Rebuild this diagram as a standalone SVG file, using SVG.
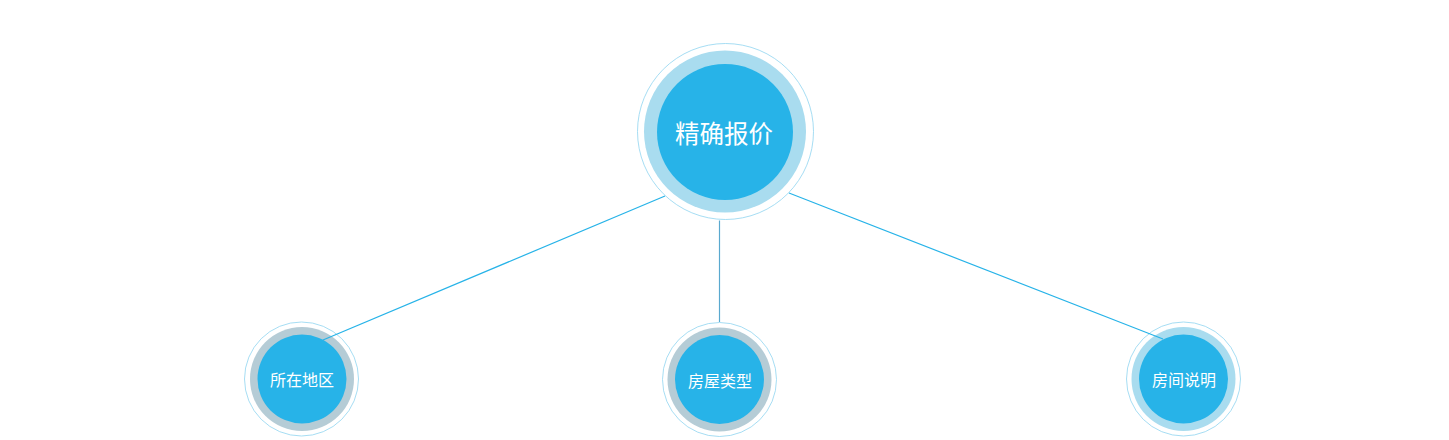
<svg xmlns="http://www.w3.org/2000/svg" width="1449" height="440" viewBox="0 0 1449 440">
<style>
.halo{fill:#ffffff;stroke:#8fd4f0;stroke-width:0.8}
.ring-blue{fill:#a9dcef}
.ring-gray{fill:#b5ccd6}
.core{fill:#27b3e8}
.lbl{fill:#ffffff;font-family:"Noto Sans CJK SC","Noto Sans",sans-serif;text-anchor:middle;dominant-baseline:central}
.edge{stroke:#27b3e8;stroke-width:1.2;fill:none}
.edge-mid{stroke:#5aa9cf;stroke-width:1.2;fill:none}
</style>
<rect width="1449" height="440" fill="#ffffff"/>
<g id="node-root">
<circle class="halo" cx="725.5" cy="131.5" r="88"/>
<circle class="ring-blue" cx="725" cy="131.5" r="81"/>
<circle class="core" cx="725" cy="132" r="68"/>
<text class="lbl" x="724" y="132" font-size="24.5">精确报价</text>
</g>
<g id="node-region">
<circle class="halo" cx="301.5" cy="379" r="57"/>
<circle class="ring-gray" cx="302" cy="379" r="52"/>
<circle class="core" cx="302" cy="379" r="44.5"/>
<text class="lbl" x="302" y="379" font-size="16">所在地区</text>
</g>
<g id="node-type">
<circle class="halo" cx="719.5" cy="379.5" r="57"/>
<circle class="ring-gray" cx="719.5" cy="379.5" r="52"/>
<circle class="core" cx="719.5" cy="379.5" r="44.5"/>
<text class="lbl" x="720" y="380" font-size="16">房屋类型</text>
</g>
<g id="node-room">
<circle class="halo" cx="1183.5" cy="379" r="57"/>
<circle class="ring-blue" cx="1183.5" cy="379" r="52"/>
<circle class="core" cx="1183.5" cy="379" r="44.5"/>
<text class="lbl" x="1184" y="379" font-size="16">房间说明</text>
</g>
<g id="connectors">
<line class="edge" x1="665" y1="196" x2="323" y2="340"/>
<line class="edge-mid" x1="719.5" y1="220.5" x2="719.5" y2="322"/>
<line class="edge" x1="789" y1="193" x2="1163" y2="339"/>
</g>
</svg>
